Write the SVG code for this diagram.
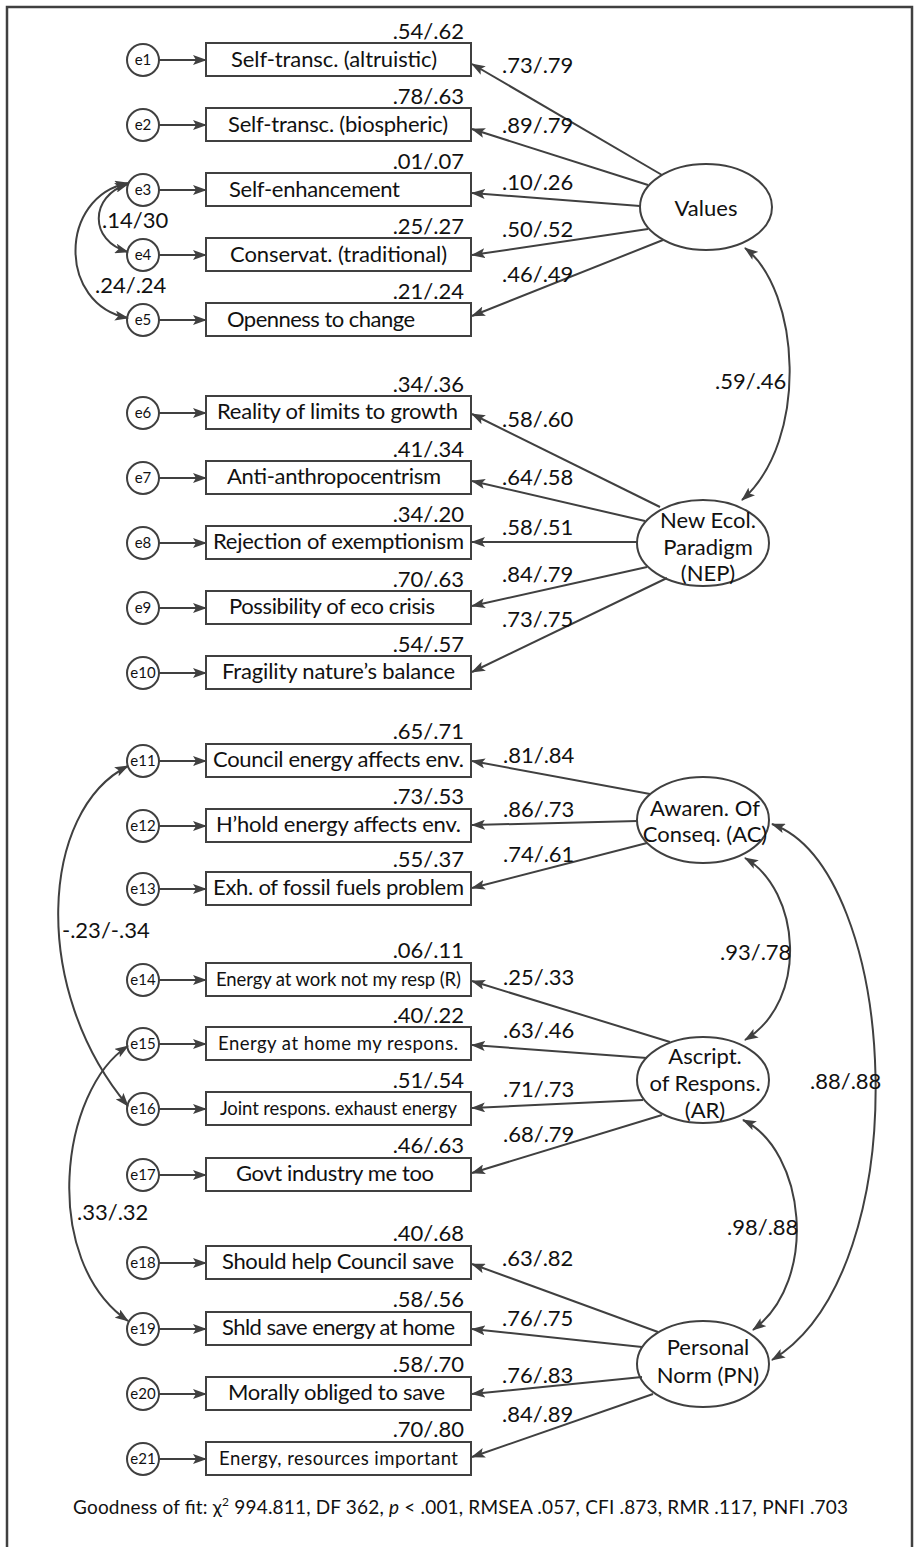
<svg xmlns="http://www.w3.org/2000/svg" width="917" height="1547" viewBox="0 0 917 1547">
  <style>
    .frame { fill: none; stroke: #404040; stroke-width: 2.5; }
    .box { fill: #ffffff; stroke: #404040; stroke-width: 2; }
    .err { fill: #ffffff; stroke: #404040; stroke-width: 2; }
    .lat { fill: #ffffff; stroke: #404040; stroke-width: 2; }
    .ln { fill: none; stroke: #404040; stroke-width: 2; }
    text { font-family: Lato, "Liberation Sans", sans-serif; fill: #111111; }
    .lbl { font-size: 22px; }
    .sm { font-size: 18.5px; }
    .num { font-size: 22px; }
    .e { font-size: 15px; text-anchor: middle; }
    .c { font-size: 22px; text-anchor: middle; }
    .r { text-anchor: end; }
    .fit { font-size: 19px; }
  </style>
  <defs>
    <marker id="ah" viewBox="0 0 14 10" refX="13" refY="5" markerWidth="14" markerHeight="10" markerUnits="userSpaceOnUse" orient="auto-start-reverse">
      <path d="M0,0 L14,5 L0,10 L3,5 z" fill="#404040"/>
    </marker>
  </defs>

  <rect class="frame" x="7" y="7" width="905" height="1580"/>

  <!-- error terms -->
  <g id="e1"><circle class="err" cx="143" cy="60" r="16"/><text class="e" x="143" y="65">e1</text></g>
  <g id="e2"><circle class="err" cx="143" cy="125" r="16"/><text class="e" x="143" y="130">e2</text></g>
  <g id="e3"><circle class="err" cx="143" cy="190" r="16"/><text class="e" x="143" y="195">e3</text></g>
  <g id="e4"><circle class="err" cx="143" cy="255" r="16"/><text class="e" x="143" y="260">e4</text></g>
  <g id="e5"><circle class="err" cx="143" cy="320" r="16"/><text class="e" x="143" y="325">e5</text></g>
  <g id="e6"><circle class="err" cx="143" cy="413" r="16"/><text class="e" x="143" y="418">e6</text></g>
  <g id="e7"><circle class="err" cx="143" cy="478" r="16"/><text class="e" x="143" y="483">e7</text></g>
  <g id="e8"><circle class="err" cx="143" cy="543" r="16"/><text class="e" x="143" y="548">e8</text></g>
  <g id="e9"><circle class="err" cx="143" cy="608" r="16"/><text class="e" x="143" y="613">e9</text></g>
  <g id="e10"><circle class="err" cx="143" cy="673" r="16"/><text class="e" x="143" y="678">e10</text></g>
  <g id="e11"><circle class="err" cx="143" cy="761" r="16"/><text class="e" x="143" y="766">e11</text></g>
  <g id="e12"><circle class="err" cx="143" cy="826" r="16"/><text class="e" x="143" y="831">e12</text></g>
  <g id="e13"><circle class="err" cx="143" cy="889" r="16"/><text class="e" x="143" y="894">e13</text></g>
  <g id="e14"><circle class="err" cx="143" cy="980" r="16"/><text class="e" x="143" y="985">e14</text></g>
  <g id="e15"><circle class="err" cx="143" cy="1044" r="16"/><text class="e" x="143" y="1049">e15</text></g>
  <g id="e16"><circle class="err" cx="143" cy="1109" r="16"/><text class="e" x="143" y="1114">e16</text></g>
  <g id="e17"><circle class="err" cx="143" cy="1175" r="16"/><text class="e" x="143" y="1180">e17</text></g>
  <g id="e18"><circle class="err" cx="143" cy="1263" r="16"/><text class="e" x="143" y="1268">e18</text></g>
  <g id="e19"><circle class="err" cx="143" cy="1329" r="16"/><text class="e" x="143" y="1334">e19</text></g>
  <g id="e20"><circle class="err" cx="143" cy="1394" r="16"/><text class="e" x="143" y="1399">e20</text></g>
  <g id="e21"><circle class="err" cx="143" cy="1459" r="16"/><text class="e" x="143" y="1464">e21</text></g>

  <!-- observed indicators -->
  <g id="ind1"><rect class="box" x="206" y="43" width="265" height="33"/><text class="lbl" x="231" y="67" textLength="206">Self-transc. (altruistic)</text><text class="num r" x="464" y="39">.54/.62</text></g>
  <g id="ind2"><rect class="box" x="206" y="108" width="265" height="33"/><text class="lbl" x="228" y="132" textLength="220">Self-transc. (biospheric)</text><text class="num r" x="464" y="104">.78/.63</text></g>
  <g id="ind3"><rect class="box" x="206" y="173" width="265" height="33"/><text class="lbl" x="229" y="197" textLength="171">Self-enhancement</text><text class="num r" x="464" y="169">.01/.07</text></g>
  <g id="ind4"><rect class="box" x="206" y="238" width="265" height="33"/><text class="lbl" x="230" y="262" textLength="217">Conservat. (traditional)</text><text class="num r" x="464" y="234">.25/.27</text></g>
  <g id="ind5"><rect class="box" x="206" y="303" width="265" height="33"/><text class="lbl" x="227" y="327" textLength="188">Openness to change</text><text class="num r" x="464" y="299">.21/.24</text></g>
  <g id="ind6"><rect class="box" x="206" y="396" width="265" height="33"/><text class="lbl" x="217" y="419" textLength="241">Reality of limits to growth</text><text class="num r" x="464" y="392">.34/.36</text></g>
  <g id="ind7"><rect class="box" x="206" y="461" width="265" height="33"/><text class="lbl" x="227" y="484" textLength="214">Anti-anthropocentrism</text><text class="num r" x="464" y="457">.41/.34</text></g>
  <g id="ind8"><rect class="box" x="206" y="526" width="265" height="33"/><text class="lbl" x="213" y="549" textLength="251">Rejection of exemptionism</text><text class="num r" x="464" y="522">.34/.20</text></g>
  <g id="ind9"><rect class="box" x="206" y="591" width="265" height="33"/><text class="lbl" x="229" y="614" textLength="206">Possibility of eco crisis</text><text class="num r" x="464" y="587">.70/.63</text></g>
  <g id="ind10"><rect class="box" x="206" y="656" width="265" height="33"/><text class="lbl" x="222" y="679" textLength="233">Fragility nature’s balance</text><text class="num r" x="464" y="652">.54/.57</text></g>
  <g id="ind11"><rect class="box" x="206" y="744" width="265" height="33"/><text class="lbl" x="213" y="767" textLength="251">Council energy affects env.</text><text class="num r" x="464" y="739">.65/.71</text></g>
  <g id="ind12"><rect class="box" x="206" y="809" width="265" height="33"/><text class="lbl" x="216" y="832" textLength="245">H’hold energy affects env.</text><text class="num r" x="464" y="804">.73/.53</text></g>
  <g id="ind13"><rect class="box" x="206" y="872" width="265" height="33"/><text class="lbl" x="213" y="895" textLength="251">Exh. of fossil fuels problem</text><text class="num r" x="464" y="867">.55/.37</text></g>
  <g id="ind14"><rect class="box" x="206" y="963" width="265" height="33"/><text class="sm" x="216" y="986" textLength="245">Energy at work not my resp (R)</text><text class="num r" x="464" y="958">.06/.11</text></g>
  <g id="ind15"><rect class="box" x="206" y="1027" width="265" height="33"/><text class="sm" x="218" y="1050" textLength="240">Energy at home my respons.</text><text class="num r" x="464" y="1023">.40/.22</text></g>
  <g id="ind16"><rect class="box" x="206" y="1092" width="265" height="33"/><text class="sm" x="220" y="1115" textLength="237">Joint respons. exhaust energy</text><text class="num r" x="464" y="1088">.51/.54</text></g>
  <g id="ind17"><rect class="box" x="206" y="1158" width="265" height="33"/><text class="lbl" x="236" y="1181" textLength="198">Govt industry me too</text><text class="num r" x="464" y="1153">.46/.63</text></g>
  <g id="ind18"><rect class="box" x="206" y="1246" width="265" height="33"/><text class="lbl" x="222" y="1269" textLength="232">Should help Council save</text><text class="num r" x="464" y="1241">.40/.68</text></g>
  <g id="ind19"><rect class="box" x="206" y="1312" width="265" height="33"/><text class="lbl" x="222" y="1335" textLength="233">Shld save energy at home</text><text class="num r" x="464" y="1307">.58/.56</text></g>
  <g id="ind20"><rect class="box" x="206" y="1377" width="265" height="33"/><text class="lbl" x="228" y="1400" textLength="217">Morally obliged to save</text><text class="num r" x="464" y="1372">.58/.70</text></g>
  <g id="ind21"><rect class="box" x="206" y="1442" width="265" height="33"/><text class="sm" x="219" y="1465" textLength="239">Energy, resources important</text><text class="num r" x="464" y="1437">.70/.80</text></g>

  <!-- latent factors -->
  <g id="values"><ellipse class="lat" cx="706" cy="207" rx="66" ry="43"/><text class="c" x="706" y="216">Values</text></g>
  <g id="nep"><ellipse class="lat" cx="703" cy="543" rx="66" ry="43"/><text class="c" x="708" y="528">New Ecol.</text><text class="c" x="708" y="555">Paradigm</text><text class="c" x="708" y="581">(NEP)</text></g>
  <g id="ac"><ellipse class="lat" cx="703" cy="820" rx="66" ry="43"/><text class="c" x="705" y="816">Awaren. Of</text><text class="c" x="705" y="842">Conseq. (AC)</text></g>
  <g id="ar"><ellipse class="lat" cx="703" cy="1080" rx="66" ry="43"/><text class="c" x="705" y="1064">Ascript.</text><text class="c" x="705" y="1091">of Respons.</text><text class="c" x="705" y="1118">(AR)</text></g>
  <g id="pn"><ellipse class="lat" cx="703" cy="1364" rx="66" ry="43"/><text class="c" x="708" y="1355">Personal</text><text class="c" x="708" y="1383">Norm (PN)</text></g>

  <!-- paths, loadings and covariances -->
  <g id="connectors">
    <g marker-end="url(#ah)">
      <line class="ln" x1="159" y1="60" x2="206" y2="60"/>
      <line class="ln" x1="159" y1="125" x2="206" y2="125"/>
      <line class="ln" x1="159" y1="190" x2="206" y2="190"/>
      <line class="ln" x1="159" y1="255" x2="206" y2="255"/>
      <line class="ln" x1="159" y1="320" x2="206" y2="320"/>
      <line class="ln" x1="159" y1="413" x2="206" y2="413"/>
      <line class="ln" x1="159" y1="478" x2="206" y2="478"/>
      <line class="ln" x1="159" y1="543" x2="206" y2="543"/>
      <line class="ln" x1="159" y1="608" x2="206" y2="608"/>
      <line class="ln" x1="159" y1="673" x2="206" y2="673"/>
      <line class="ln" x1="159" y1="761" x2="206" y2="761"/>
      <line class="ln" x1="159" y1="826" x2="206" y2="826"/>
      <line class="ln" x1="159" y1="889" x2="206" y2="889"/>
      <line class="ln" x1="159" y1="980" x2="206" y2="980"/>
      <line class="ln" x1="159" y1="1044" x2="206" y2="1044"/>
      <line class="ln" x1="159" y1="1109" x2="206" y2="1109"/>
      <line class="ln" x1="159" y1="1175" x2="206" y2="1175"/>
      <line class="ln" x1="159" y1="1263" x2="206" y2="1263"/>
      <line class="ln" x1="159" y1="1329" x2="206" y2="1329"/>
      <line class="ln" x1="159" y1="1394" x2="206" y2="1394"/>
      <line class="ln" x1="159" y1="1459" x2="206" y2="1459"/>

      <line class="ln" x1="662" y1="175" x2="472" y2="64"/>
      <line class="ln" x1="648" y1="185" x2="472" y2="129"/>
      <line class="ln" x1="640" y1="206" x2="472" y2="193"/>
      <line class="ln" x1="648" y1="229" x2="472" y2="255"/>
      <line class="ln" x1="663" y1="240" x2="472" y2="316"/>

      <line class="ln" x1="660" y1="507" x2="472" y2="414"/>
      <line class="ln" x1="645" y1="521" x2="472" y2="481"/>
      <line class="ln" x1="637" y1="542" x2="472" y2="542"/>
      <line class="ln" x1="647" y1="567" x2="472" y2="606"/>
      <line class="ln" x1="667" y1="578" x2="472" y2="672"/>

      <line class="ln" x1="650" y1="794" x2="472" y2="761"/>
      <line class="ln" x1="638" y1="821" x2="472" y2="825"/>
      <line class="ln" x1="647" y1="843" x2="472" y2="888"/>

      <line class="ln" x1="670" y1="1042" x2="472" y2="981"/>
      <line class="ln" x1="647" y1="1058" x2="472" y2="1045"/>
      <line class="ln" x1="643" y1="1100" x2="472" y2="1108"/>
      <line class="ln" x1="662" y1="1115" x2="472" y2="1173"/>

      <line class="ln" x1="658" y1="1332" x2="472" y2="1264"/>
      <line class="ln" x1="642" y1="1347" x2="472" y2="1329"/>
      <line class="ln" x1="642" y1="1377" x2="472" y2="1394"/>
      <line class="ln" x1="653" y1="1394" x2="472" y2="1457"/>
    </g>

    <g marker-start="url(#ah)" marker-end="url(#ah)">
      <path class="ln" d="M128,184 C89,196 89,241 128,252"/>
      <path class="ln" d="M128,183 C58,197 58,305 128,318"/>
      <path class="ln" d="M128,766 C40,810 30,990 128,1106"/>
      <path class="ln" d="M128,1046 C60,1090 40,1260 128,1321"/>
      <path class="ln" d="M745,248 C800,290 810,440 742,500"/>
      <path class="ln" d="M745,858 C800,890 810,1000 745,1040"/>
      <path class="ln" d="M743,1120 C805,1150 820,1280 753,1330"/>
      <path class="ln" d="M772,824 C900,870 920,1270 772,1360"/>
    </g>

    <g class="num">
      <text x="502" y="73">.73/.79</text>
      <text x="502" y="133">.89/.79</text>
      <text x="502" y="190">.10/.26</text>
      <text x="502" y="237">.50/.52</text>
      <text x="502" y="282">.46/.49</text>
      <text x="502" y="427">.58/.60</text>
      <text x="502" y="485">.64/.58</text>
      <text x="502" y="535">.58/.51</text>
      <text x="502" y="582">.84/.79</text>
      <text x="502" y="627">.73/.75</text>
      <text x="503" y="763">.81/.84</text>
      <text x="503" y="817">.86/.73</text>
      <text x="503" y="862">.74/.61</text>
      <text x="503" y="985">.25/.33</text>
      <text x="503" y="1038">.63/.46</text>
      <text x="503" y="1097">.71/.73</text>
      <text x="503" y="1142">.68/.79</text>
      <text x="502" y="1266">.63/.82</text>
      <text x="502" y="1326">.76/.75</text>
      <text x="502" y="1383">.76/.83</text>
      <text x="502" y="1422">.84/.89</text>

      <text x="102" y="228">.14/30</text>
      <text x="95" y="293">.24/.24</text>
      <text x="715" y="389">.59/.46</text>
      <text x="62" y="938">-.23/-.34</text>
      <text x="77" y="1220">.33/.32</text>
      <text x="720" y="960">.93/.78</text>
      <text x="727" y="1235">.98/.88</text>
      <text x="810" y="1089">.88/.88</text>
    </g>
  </g>

  <text class="fit" x="73" y="1514" textLength="775">Goodness of fit: χ<tspan font-size="12" dy="-8">2</tspan><tspan dy="8"> 994.811, DF 362, </tspan><tspan font-style="italic">p</tspan> &lt; .001, RMSEA .057, CFI .873, RMR .117, PNFI .703</text>
</svg>
